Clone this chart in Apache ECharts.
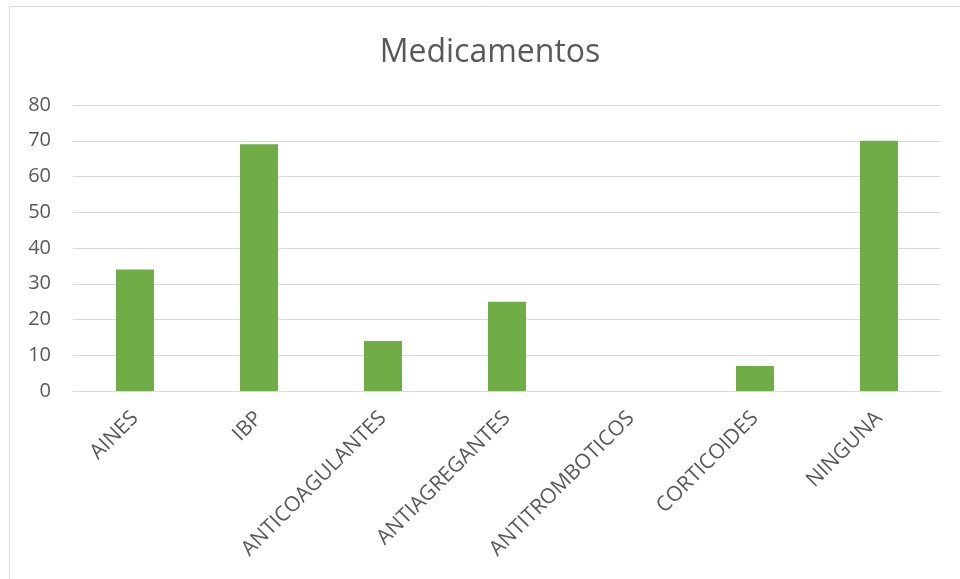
<!DOCTYPE html>
<html>
<head>
<meta charset="utf-8">
<script src="https://cdn.jsdelivr.net/npm/echarts@6/dist/echarts.min.js"></script>
<style>
html,body{margin:0;padding:0;background:#fff;}
#chart{width:960px;height:579px;}
</style>
</head>
<body>
<div id="chart"></div>
<script>
const categories = ['AINES','IBP','ANTICOAGULANTES','ANTIAGREGANTES','ANTITROMBOTICOS','CORTICOIDES','NINGUNA'];
const values = [34, 69, 14, 25, 0, 7, 70];
const yTicks = [0, 10, 20, 30, 40, 50, 60, 70, 80];

const chart = echarts.init(document.getElementById('chart'), null, {renderer:'canvas'});
chart.setOption({
  backgroundColor:'#fff',
  animation:false,
  title:{
    text:'Medicamentos',
    left: 485,
    textAlign:'center',
    top:32,
    textStyle:{fontFamily:'Open Sans', fontWeight:'normal', fontSize:32, color:'#595959'}
  },
  graphic:[{
    type:'rect',
    shape:{x:9.5, y:6.5, width:1000, height:1000},
    style:{fill:'none', stroke:'#d9d9d9', lineWidth:1},
    silent:true
  }],
  grid:{left:73, right:19, top:105, bottom:188, containLabel:false},
  xAxis:{
    type:'category',
    data:categories,
    axisLine:{show:true, lineStyle:{color:'#d9d9d9', width:1}},
    axisTick:{show:false},
    axisLabel:{rotate:45, fontFamily:'Open Sans', fontSize:21, color:'#595959', margin:24, interval:0}
  },
  yAxis:{
    type:'value',
    min:yTicks[0], max:yTicks[yTicks.length-1], interval:10,
    axisLine:{show:false},
    axisTick:{show:false},
    splitLine:{lineStyle:{color:'#d9d9d9', width:1}},
    axisLabel:{fontFamily:'Open Sans', fontSize:20, color:'#595959', margin:22}
  },
  series:[{
    type:'bar',
    data:values,
    barWidth:38,
    itemStyle:{color:'#70AD47'}
  }]
});
</script>
</body>
</html>
